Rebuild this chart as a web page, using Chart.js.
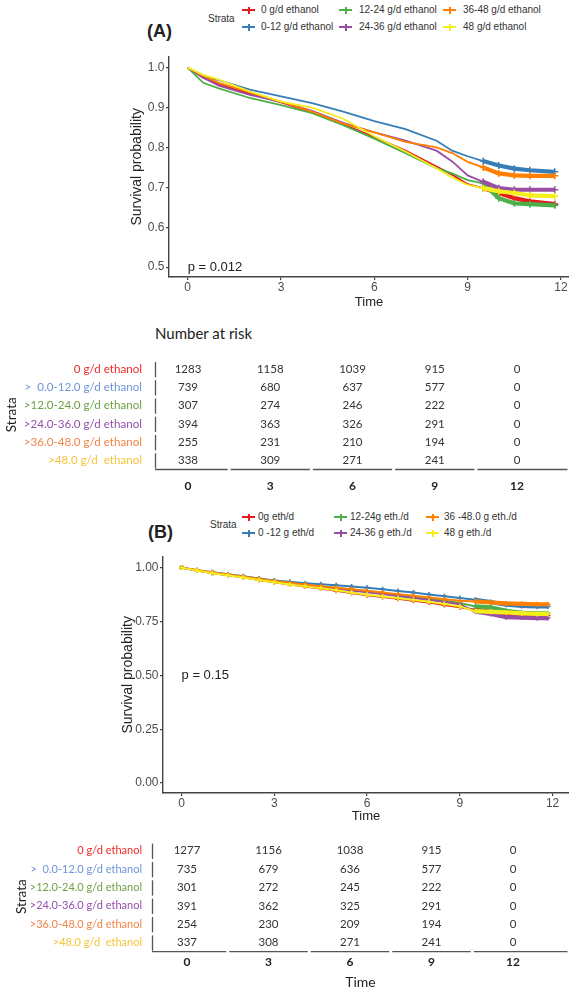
<!DOCTYPE html>
<html>
<head>
<meta charset="utf-8">
<title>Survival by ethanol intake</title>
<script src="https://cdn.jsdelivr.net/npm/chart.js@4.4.0/dist/chart.umd.min.js"></script>
<style>
  body { margin:0; background:#fff; }
  #page { position:relative; width:569px; height:991px; overflow:hidden; font-family:"Liberation Sans", Arial, sans-serif; color:#222; }
  .abs { position:absolute; }
  .panel { font-weight:bold; font-size:18px; line-height:20px; }
  .strata { font-size:10px; line-height:12px; color:#333; }
  .item { position:absolute; font-size:10px; color:#333; white-space:nowrap; line-height:12px; height:12px; }
  .mk { position:absolute; left:0; top:5px; width:13px; height:2px; }
  .mk::after { content:''; position:absolute; left:5.5px; top:-2.5px; width:2px; height:7px; background:inherit; }
  .risk-title { font-family:Lato, sans-serif; font-size:15px; line-height:18px; color:#222; }
</style>
</head>
<body>
<div id="page">
  <div class="abs panel" style="left:147px;top:21px">(A)</div>
  <div class="abs strata" style="left:208px;top:13px">Strata</div>
  <div id="legA"></div>
  <canvas id="kmA" class="abs" width="451" height="262" style="left:118px;top:48px"></canvas>
  <div class="abs risk-title" style="left:155px;top:324px">Number at risk</div>
  <canvas id="riskA" class="abs" width="569" height="160" style="left:0;top:340px"></canvas>

  <div class="abs panel" style="left:148px;top:522px">(B)</div>
  <div class="abs strata" style="left:210px;top:519px">Strata</div>
  <div id="legB"></div>
  <canvas id="kmB" class="abs" width="451" height="276" style="left:118px;top:548px"></canvas>
  <canvas id="riskB" class="abs" width="569" height="166" style="left:0;top:825px"></canvas>
</div>
<script>
// strata
const legendA = ['0 g/d ethanol', '0-12 g/d ethanol', '12-24 g/d ethanol', '24-36 g/d ethanol', '36-48 g/d ethanol', '48 g/d ethanol'];
const legendB = ['0g eth/d', '0 -12 g eth/d', '12-24g eth./d', '24-36 g eth./d', '36 -48.0 g eth./d', '48 g eth./d'];
const tableLabels = ['0 g/d ethanol', '>  0.0-12.0 g/d ethanol', '>12.0-24.0 g/d ethanol', '>24.0-36.0 g/d ethanol', '>36.0-48.0 g/d ethanol', '>48.0 g/d  ethanol'];
const lineColors = ['#e41a1c', '#377eb8', '#4daf4a', '#984ea3', '#ff7f00', '#f5ee1c'];
const labelColors = ['#ee2a2a', '#6d93d8', '#6fa046', '#9350ad', '#f2834a', '#f3c43a'];

const timeTicks = [0, 3, 6, 9, 12];
const yTicksA = [0.5, 0.6, 0.7, 0.8, 0.9, 1.0];
const yTicksB = [0, 0.25, 0.5, 0.75, 1.0];

// panel A curves
const timesA = [0, 0.5, 1, 2, 3, 4, 5, 6, 7, 8, 8.5, 9, 9.5, 10, 10.5, 11, 11.8];
const redA    = [1, 0.975, 0.958, 0.935, 0.913, 0.888, 0.858, 0.826, 0.792, 0.752, 0.732, 0.708, 0.698, 0.686, 0.673, 0.665, 0.658];
const blueA   = [1, 0.978, 0.969, 0.945, 0.928, 0.911, 0.890, 0.866, 0.846, 0.817, 0.792, 0.778, 0.766, 0.755, 0.747, 0.743, 0.739];
const greenA  = [1, 0.962, 0.948, 0.924, 0.906, 0.886, 0.856, 0.822, 0.786, 0.748, 0.735, 0.718, 0.710, 0.673, 0.660, 0.658, 0.655];
const purpleA = [1, 0.975, 0.955, 0.932, 0.914, 0.892, 0.862, 0.838, 0.817, 0.792, 0.765, 0.730, 0.714, 0.698, 0.694, 0.694, 0.694];
const orangeA = [1, 0.980, 0.962, 0.938, 0.915, 0.890, 0.860, 0.838, 0.814, 0.800, 0.786, 0.764, 0.750, 0.735, 0.730, 0.729, 0.729];
const yellowA = [1, 0.982, 0.970, 0.940, 0.915, 0.900, 0.872, 0.828, 0.790, 0.748, 0.725, 0.706, 0.698, 0.690, 0.686, 0.680, 0.678];

// panel B curves
const timesB = [0, 0.5, 1, 1.5, 2, 2.5, 3, 3.5, 4, 4.5, 5, 5.5, 6, 6.5, 7, 7.5, 8, 8.5, 9, 9.5, 10, 10.5, 11, 11.5, 11.85];
const redB    = [1, .987, .975, .965, .955, .943, .932, .922, .912, .903, .893, .882, .872, .864, .855, .846, .838, .827, .816, .805, .795, .785, .780, .778, .778];
const blueB   = [1, .988, .978, .969, .960, .950, .940, .934, .928, .923, .918, .912, .907, .900, .892, .884, .875, .867, .859, .851, .840, .828, .822, .820, .820];
const greenB  = [1, .987, .976, .966, .957, .947, .937, .928, .920, .912, .905, .897, .890, .881, .872, .864, .855, .846, .836, .820, .816, .800, .790, .788, .788];
const purpleB = [1, .987, .975, .966, .957, .947, .937, .928, .920, .911, .903, .894, .886, .877, .868, .859, .850, .840, .830, .795, .785, .770, .768, .766, .766];
const orangeB = [1, .989, .978, .968, .958, .948, .938, .930, .922, .914, .907, .900, .893, .885, .877, .869, .861, .853, .846, .843, .838, .834, .832, .830, .830];
const yellowB = [1, .986, .974, .964, .954, .943, .932, .922, .913, .904, .895, .884, .874, .866, .858, .850, .842, .831, .820, .798, .795, .792, .788, .785, .785];

// number at risk
const riskTimes = [0, 3, 6, 9, 12];
const riskA = [
  [1283, 1158, 1039, 915, 0],
  [739, 680, 637, 577, 0],
  [307, 274, 246, 222, 0],
  [394, 363, 326, 291, 0],
  [255, 231, 210, 194, 0],
  [338, 309, 271, 241, 0]
];
const riskB = [
  [1277, 1156, 1038, 915, 0],
  [735, 679, 636, 577, 0],
  [301, 272, 245, 222, 0],
  [391, 362, 325, 291, 0],
  [254, 230, 209, 194, 0],
  [337, 308, 271, 241, 0]
];

Chart.defaults.font.family = '"Liberation Sans", Arial, sans-serif';

function buildLegend(id, labels, cols, textOff, rowsY) {
    const el = document.getElementById(id);
    labels.forEach((lab, i) => {
        const c = Math.floor(i / 2), r = i % 2;
        const d = document.createElement('div');
        d.className = 'item';
        d.style.left = cols[c] + 'px';
        d.style.top = (rowsY[r] - 6) + 'px';
        d.innerHTML = `<span class="mk" style="background:${lineColors[i]}"></span><span style="position:absolute;left:${textOff[c]}px">${lab}</span>`;
        el.appendChild(d);
    });
}
buildLegend('legA', legendA, [242, 339, 443], [19, 20, 20], [10, 27]);
buildLegend('legB', legendB, [242, 334, 426], [16, 16, 18], [517, 533]);

const pvalPlugin = {
    id: 'pval',
    afterDatasetsDraw(chart, args, opts) {
        const {ctx, scales: {x, y}} = chart;
        ctx.save();
        ctx.font = '13px "Liberation Sans", Arial, sans-serif';
        ctx.fillStyle = '#222';
        ctx.textBaseline = 'middle';
        ctx.fillText(opts.text, x.getPixelForValue(opts.x), y.getPixelForValue(opts.y));
        ctx.restore();
    }
};

function kmChart(id, times, series, cfg) {
    const axisGrid = {drawOnChartArea: false, drawTicks: true, tickLength: 3, color: '#444', lineWidth: 1.2};
    const axisBorder = {color: '#444', width: 1.4};
    return new Chart(document.getElementById(id), {
        type: 'line',
        data: {
            datasets: series.map((vals, i) => ({
                label: cfg.labels[i],
                data: times.map((t, j) => ({x: t, y: vals[j]})),
                borderColor: lineColors[i],
                backgroundColor: lineColors[i],
                borderWidth: cfg.lw,
                tension: 0,
                fill: false,
                pointStyle: 'cross',
                pointRadius: c => (c.raw && c.raw.x >= cfg.markFrom ? cfg.mr : 0),
                pointBorderWidth: 1.6,
                pointHoverRadius: 0,
                segment: { borderWidth: c => (c.p0.parsed.x >= cfg.tailFrom ? cfg.tailW : cfg.lw) },
                order: series.length - i
            }))
        },
        options: {
            responsive: false,
            animation: false,
            layout: { autoPadding: false, padding: {top: cfg.padTop, left: 0, right: 0, bottom: 0} },
            plugins: {
                legend: { display: false },
                tooltip: { enabled: false },
                pval: { text: cfg.pText, x: 0, y: 0.5 }
            },
            scales: {
                x: {
                    type: 'linear', min: -0.6, max: cfg.xMax,
                    afterBuildTicks: s => { s.ticks = timeTicks.map(v => ({value: v})); },
                    afterFit: s => { s.height = cfg.xH; },
                    ticks: { font: {size: 12}, color: '#4d4d4d', padding: 0.5 },
                    grid: axisGrid,
                    border: axisBorder,
                    title: { display: true, text: 'Time', font: {size: 13}, color: '#222', padding: 0 }
                },
                y: {
                    min: cfg.yMin, max: cfg.yMax,
                    afterBuildTicks: s => { s.ticks = cfg.yTicks.map(v => ({value: v})); },
                    afterFit: s => { s.width = cfg.yW; },
                    ticks: { callback: v => Number(v).toFixed(cfg.dec), font: {size: 12}, color: '#4d4d4d', padding: 1.5 },
                    grid: axisGrid,
                    border: axisBorder,
                    title: { display: true, text: 'Survival probability', font: {size: 14}, color: '#222', padding: {top: cfg.yTitlePad, bottom: 0} }
                }
            }
        },
        plugins: [pvalPlugin]
    });
}

kmChart('kmA', timesA, [redA, blueA, greenA, purpleA, orangeA, yellowA], {
    labels: legendA, lw: 1.8, tailW: 4.2, tailFrom: 9.2, markFrom: 9.5, mr: 3.5,
    padTop: 5, xMax: 12.257, xH: 33, yMin: 0.4754, yMax: 1.0275, yTicks: yTicksA, dec: 1, yW: 51, yTitlePad: 10.6,
    pText: 'p = 0.012'
});
kmChart('kmB', timesB, [redB, blueB, greenB, purpleB, orangeB, yellowB], {
    labels: legendB, lw: 2, tailW: 4.2, tailFrom: 9.4, markFrom: 0, mr: 2.5,
    padTop: 7, xMax: 12.53, xH: 31, yMin: -0.046, yMax: 1.0507, yTicks: yTicksB, dec: 2, yW: 45, yTitlePad: 1.6,
    pText: 'p = 0.15'
});

const riskPlugin = {
    id: 'risk',
    afterDatasetsDraw(chart) {
        const {ctx, chartArea: a, scales: {x, y}} = chart;
        ctx.save();
        ctx.font = '11.5px Lato, sans-serif';
        ctx.fillStyle = '#333';
        ctx.textAlign = 'center';
        ctx.textBaseline = 'middle';
        chart.data.datasets.forEach((ds, i) => {
            chart.getDatasetMeta(i).data.forEach((pt, j) => ctx.fillText(String(ds.data[j].n), pt.x, pt.y));
        });
        // row separators on the left, underline with gaps at the bottom
        ctx.strokeStyle = '#555';
        ctx.lineWidth = 1.3;
        const n = chart.data.datasets.length;
        const h = (a.bottom - a.top) / n;
        for (let i = 0; i < n; i++) {
            const py = y.getPixelForValue(i);
            ctx.beginPath();
            ctx.moveTo(a.left + 0.5, py - h / 2 + 2);
            ctx.lineTo(a.left + 0.5, py + h / 2 - 1);
            ctx.stroke();
        }
        const px = riskTimes.map(t => x.getPixelForValue(t));
        const cuts = [a.left];
        for (let k = 0; k < px.length - 1; k++) cuts.push((px[k] + px[k + 1]) / 2);
        cuts.push(a.right);
        for (let k = 0; k < cuts.length - 1; k++) {
            ctx.beginPath();
            ctx.moveTo(cuts[k] + (k ? 1.5 : 0), a.bottom);
            ctx.lineTo(cuts[k + 1] - 1.5, a.bottom);
            ctx.stroke();
        }
        ctx.restore();
    }
};

function riskChart(id, rows, cfg) {
    return new Chart(document.getElementById(id), {
        type: 'scatter',
        data: {
            datasets: rows.map((row, i) => ({
                label: tableLabels[i],
                data: riskTimes.map((t, j) => ({x: t, y: tableLabels[i], n: row[j]})),
                pointRadius: 0,
                pointHoverRadius: 0
            }))
        },
        options: {
            responsive: false,
            animation: false,
            layout: { autoPadding: false, padding: {top: cfg.padTop, left: 0, right: 0, bottom: 0} },
            plugins: { legend: { display: false }, tooltip: { enabled: false } },
            scales: {
                x: {
                    type: 'linear', min: cfg.xMin, max: cfg.xMax,
                    afterBuildTicks: s => { s.ticks = riskTimes.map(v => ({value: v})); },
                    afterFit: s => { s.height = cfg.xH; },
                    ticks: { font: {family: 'Lato', size: 12, weight: 'bold'}, color: '#222', padding: cfg.xPad },
                    grid: { display: false, drawTicks: false },
                    border: { display: false },
                    title: { display: cfg.showTime, text: 'Time', font: {family: 'Lato', size: 14}, color: '#222', padding: 0 }
                },
                y: {
                    type: 'category', labels: tableLabels, offset: true,
                    afterFit: s => { s.width = cfg.yW; },
                    ticks: { font: {family: 'Lato', size: cfg.labelSize}, color: c => labelColors[c.index], padding: cfg.yPad },
                    grid: { display: false, drawTicks: false },
                    border: { display: false },
                    title: { display: true, text: 'Strata', font: {family: 'Lato', size: 13.5}, color: '#222', padding: {top: cfg.titlePad, bottom: 0} }
                }
            }
        },
        plugins: [riskPlugin]
    });
}

riskChart('riskA', riskA, { padTop: 7, xMin: -1.2036, xMax: 13.896, xH: 30.5, xPad: 9.3, yW: 155, yPad: 13, labelSize: 11.6, titlePad: 4, showTime: false });
riskChart('riskB', riskB, { padTop: 10.3, xMin: -1.288, xMax: 14.06, xH: 39.3, xPad: 3.1, yW: 152, yPad: 10, labelSize: 11, titlePad: 14, showTime: true });
</script>
</body>
</html>
